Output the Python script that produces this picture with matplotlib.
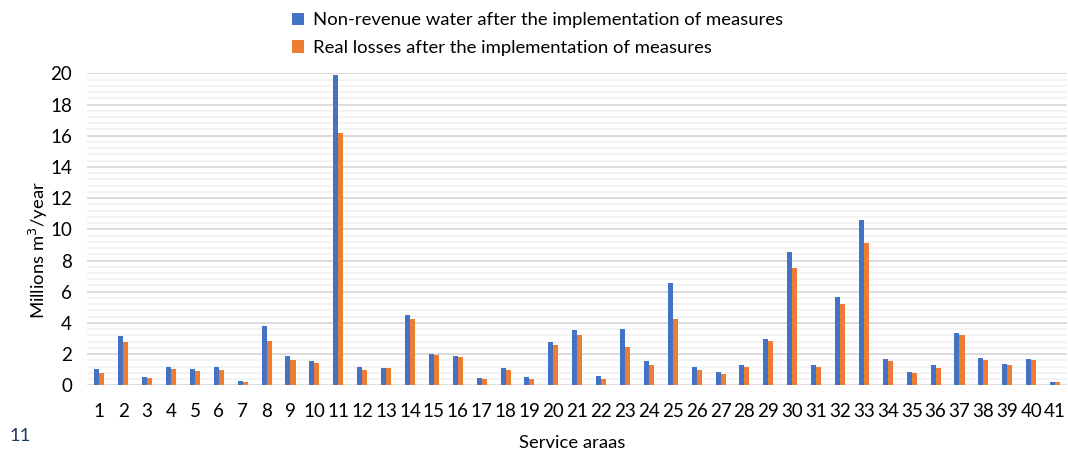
import matplotlib
matplotlib.use("Agg")
import matplotlib.pyplot as plt
import numpy as np
from matplotlib.patches import Patch

areas = list(range(1, 42))
nrw = [1.05, 3.15, 0.52, 1.2, 1.05, 1.2, 0.3, 3.8, 1.85, 1.57,
       19.9, 1.2, 1.12, 4.48, 2.02, 1.9, 0.47, 1.12, 0.55, 2.8,
       3.52, 0.58, 3.64, 1.57, 6.53, 1.15, 0.85, 1.32, 2.95, 8.53,
       1.27, 5.64, 10.59, 1.7, 0.88, 1.27, 3.38, 1.74, 1.38, 1.7, 0.22]
rl = [0.8, 2.8, 0.45, 1.02, 0.9, 0.95, 0.24, 2.85, 1.65, 1.43,
      16.15, 1.0, 1.08, 4.23, 1.92, 1.8, 0.42, 0.95, 0.42, 2.56,
      3.2, 0.38, 2.47, 1.32, 4.27, 1.0, 0.75, 1.15, 2.83, 7.49,
      1.2, 5.19, 9.15, 1.55, 0.8, 1.12, 3.22, 1.6, 1.28, 1.65, 0.2]
labels = ["Non-revenue water after the implementation of measures",
          "Real losses after the implementation of measures"]
colors = ["#4472C4", "#ED7D31"]

plt.rcParams['font.family'] = ['Lato', 'DejaVu Sans']
W, H = 1068, 451
fig = plt.figure(figsize=(W / 100, H / 100), dpi=100)
left, right, top, bottom = 87.4, 1067, 73.3, 385.3
ax = fig.add_axes([left / W, 1 - bottom / H, (right - left) / W, (bottom - top) / H])

x = np.array(areas)
bw = 0.21
ax.bar(x - bw / 2, nrw, width=bw, color=colors[0], zorder=3, label=labels[0])
ax.bar(x + bw / 2, rl, width=bw, color=colors[1], zorder=3, label=labels[1])

ax.set_xlim(0.5, 41.5)
ax.set_ylim(0, 20)
ax.set_yticks(np.arange(0, 21, 2))
ax.set_yticks(np.arange(0, 20.01, 0.4), minor=True)
ax.set_xticks(x)
ax.set_xticklabels([str(a) for a in areas])
ax.grid(axis='y', which='minor', color='#f2f2f2', linewidth=1.3, zorder=0)
ax.grid(axis='y', which='major', color='#d9d9d9', linewidth=1.3, zorder=1)
for s in ax.spines.values():
    s.set_visible(False)
ax.tick_params(axis='both', which='both', length=0, labelsize=13.5, colors='#000000')
ax.tick_params(axis='x', pad=13)
ax.tick_params(axis='y', pad=11)

fig.text(572 / W, 1 - 443 / H, "Service araas", ha='center', va='center', fontsize=13.3)
fig.text(38 / W, 1 - 250 / H, "Millions m$^3$/year", ha='center', va='center',
         rotation=90, fontsize=13.3)
fig.text(20 / W, 1 - 436 / H, "11", ha='center', va='center', fontsize=13.3, color='#1F3864')

handles = [Patch(facecolor=c) for c in colors]
fig.legend(handles, labels, loc='upper left', bbox_to_anchor=(285 / W, 1 - 5 / H),
           frameon=False, fontsize=13.3, handlelength=0.65, handleheight=0.65,
           handletextpad=0.45, labelspacing=0.62, borderaxespad=0)

fig.savefig("out.png", dpi=100)
